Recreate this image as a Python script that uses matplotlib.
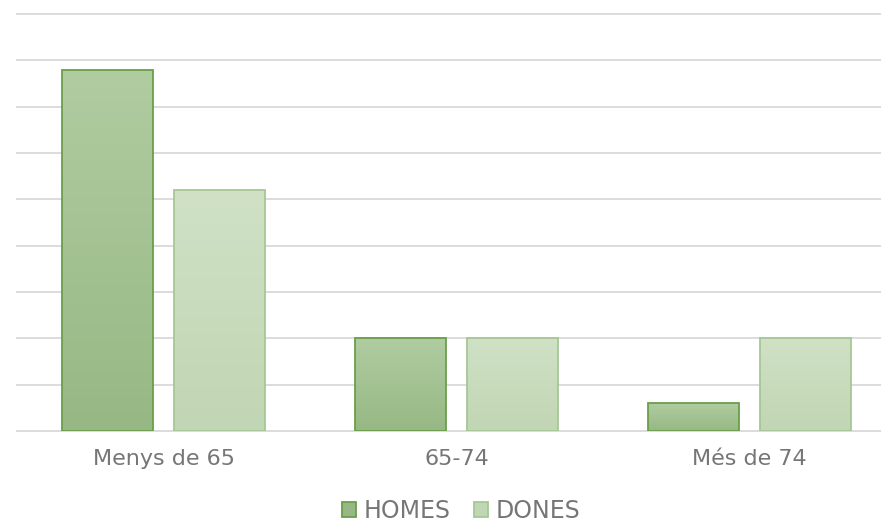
import matplotlib
matplotlib.use("Agg")
import matplotlib.pyplot as plt
import numpy as np
from matplotlib.colors import LinearSegmentedColormap
from matplotlib.patches import Patch

categories = ["Menys de 65", "65-74", "Més de 74"]
homes = [7.8, 2.0, 0.6]
dones = [5.2, 2.0, 2.0]
series_names = ["HOMES", "DONES"]

fig = plt.figure(figsize=(8.81, 5.25), dpi=100)
ax = fig.add_axes([17 / 881, 1 - 431 / 525, 1 - 17 / 881, 417 / 525])

x = np.arange(len(categories))
w = 0.31
off = 0.192
text_col = "#767676"

styles = {
    "HOMES": dict(top="#b0cca1", bottom="#97b884", edge="#6b9e4a"),
    "DONES": dict(top="#d0e1c5", bottom="#c1d6b4", edge="#a6c795"),
}


def grad_bars(xs, vals, st):
    cmap = LinearSegmentedColormap.from_list("g", [st["bottom"], st["top"]])
    bars = ax.bar(xs, vals, width=w, color="none", edgecolor=st["edge"],
                  linewidth=1.3, zorder=3)
    for b in bars:
        x0, y0 = b.get_x(), b.get_y()
        bw, bh = b.get_width(), b.get_height()
        grad = np.linspace(0, 1, 100).reshape(-1, 1)
        im = ax.imshow(grad, cmap=cmap, origin="lower", aspect="auto",
                       extent=[x0, x0 + bw, y0, y0 + bh], zorder=2)
        im.set_clip_path(b)
    return bars


grad_bars(x - off, homes, styles["HOMES"])
grad_bars(x + off, dones, styles["DONES"])

ax.set_xlim(-0.5, -0.5 + 864 / 293)
ax.set_ylim(0, 9)
ax.set_yticks(np.arange(0, 10, 1))
ax.yaxis.grid(True, color="#d9d9d9", linewidth=1.3)
for gl in ax.get_ygridlines():
    gl.set_clip_on(False)
ax.set_axisbelow(True)
ax.tick_params(axis="y", left=False, labelleft=False)
ax.tick_params(axis="x", length=0, pad=13, labelsize=16, labelcolor=text_col)
ax.set_xticks(x)
ax.set_xticklabels(categories)
for s in ax.spines.values():
    s.set_visible(False)

handles = [Patch(facecolor=styles[n]["bottom"], edgecolor=styles[n]["edge"],
                 linewidth=1.3, label=n) for n in series_names]
fig.legend(handles=handles, loc="center", bbox_to_anchor=(461 / 881, 1 - 511 / 525),
           ncol=2, frameon=False, fontsize=17, labelcolor=text_col,
           handlelength=0.6, handleheight=0.6, handletextpad=0.3, columnspacing=1.0,
           borderpad=0, borderaxespad=0)

fig.savefig("out.png", dpi=100)
